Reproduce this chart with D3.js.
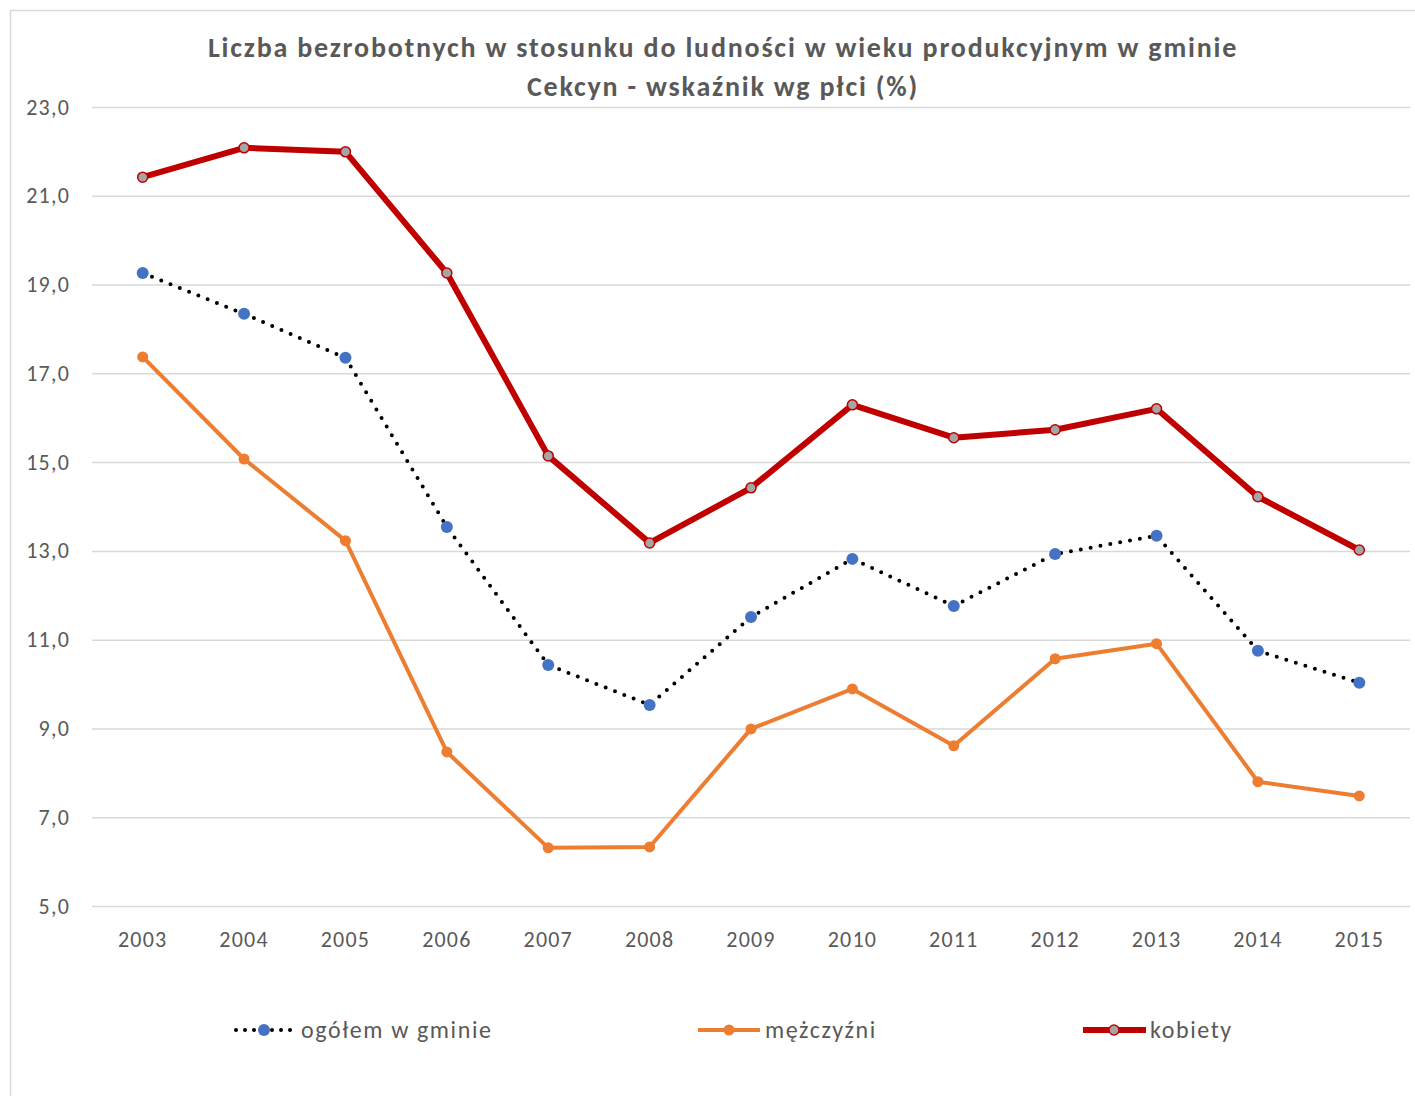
<!DOCTYPE html>
<html><head><meta charset="utf-8">
<script src="https://cdn.jsdelivr.net/npm/d3@7"></script>
<style>body{margin:0;background:#fff;}svg{display:block;}</style>
</head><body>
<script>
const years = ["2003","2004","2005","2006","2007","2008","2009","2010","2011","2012","2013","2014","2015"];
const ogolem = [19.26,18.34,17.35,13.54,10.43,9.53,11.51,12.82,11.76,12.93,13.34,10.75,10.03];
const mezczyzni = [17.37,15.07,13.23,8.47,6.31,6.33,8.99,9.89,8.61,10.57,10.91,7.80,7.48];
const kobiety = [21.42,22.08,21.99,19.26,15.14,13.18,14.42,16.29,15.55,15.73,16.20,14.22,13.02];
const yTicks = [5,7,9,11,13,15,17,19,21,23];
const titleLines = ["Liczba bezrobotnych w stosunku do ludności w wieku produkcyjnym w gminie","Cekcyn - wskaźnik wg płci (%)"];
const seriesNames = ["ogółem w gminie","mężczyźni","kobiety"];

const W=1415,H=1096;
const svg=d3.select("body").append("svg").attr("width",W).attr("height",H);
svg.append("rect").attr("x",10.5).attr("y",10.5).attr("width",W+20).attr("height",H+20)
  .attr("fill","#fff").attr("stroke","#d9d9d9").attr("stroke-width",1.5);

const font="Carlito, Calibri, Lato, 'Open Sans', sans-serif";
const x=d3.scaleBand().domain(years).range([92,1410]);
const y=d3.scaleLinear().domain([5,23]).range([906,107]);

// title
svg.append("g").selectAll("text").data(titleLines).join("text")
  .attr("x",723).attr("y",(d,i)=>57+i*39).attr("text-anchor","middle")
  .attr("font-family",font).attr("font-weight","bold").attr("font-size",28)
  .attr("letter-spacing",1.8).attr("fill","#595959").text(d=>d);

// grid
const yAxis=d3.axisLeft(y).tickValues(yTicks).tickSize(-(1410-92)).tickFormat(d=>d3.format(".1f")(d).replace(".",","));
const gy=svg.append("g").attr("transform","translate(92,0)").call(yAxis);
gy.select(".domain").remove();
gy.selectAll(".tick line").attr("stroke","#d9d9d9").attr("stroke-width",1.5);
gy.selectAll(".tick text").attr("x",-22).attr("font-family",font).attr("font-size",22).attr("letter-spacing",1.2).attr("fill","#595959");

const xAxis=d3.axisBottom(x).tickSize(0);
const gx=svg.append("g").attr("transform","translate(0,906)").call(xAxis);
gx.select(".domain").remove();
gx.selectAll(".tick text").attr("dy",0).attr("y",41).attr("font-family",font).attr("font-size",22).attr("letter-spacing",1.2).attr("fill","#595959");

const cx=(d,i)=>x(years[i])+x.bandwidth()/2;
const line=d3.line().x(cx).y(d=>y(d));

// mężczyźni
svg.append("path").datum(mezczyzni).attr("d",line).attr("fill","none").attr("stroke","#ED7D31").attr("stroke-width",4).attr("stroke-linejoin","round");
svg.append("g").selectAll("circle").data(mezczyzni).join("circle").attr("cx",cx).attr("cy",d=>y(d)).attr("r",5.5).attr("fill","#ED7D31");

// ogółem
svg.append("path").datum(ogolem).attr("d",line).attr("fill","none").attr("stroke","#000").attr("stroke-width",4)
  .attr("stroke-dasharray","0,10").attr("stroke-linecap","round");
svg.append("g").selectAll("circle").data(ogolem).join("circle").attr("cx",cx).attr("cy",d=>y(d)).attr("r",6).attr("fill","#4472C4");

// kobiety
svg.append("path").datum(kobiety).attr("d",line).attr("fill","none").attr("stroke","#C00000").attr("stroke-width",6).attr("stroke-linejoin","round");
svg.append("g").selectAll("circle").data(kobiety).join("circle").attr("cx",cx).attr("cy",d=>y(d)).attr("r",5).attr("fill","#A5A5A5").attr("stroke","#C00000").attr("stroke-width",1.5);

// legend
const ly=1030;
const lg=svg.append("g");
lg.append("line").attr("x1",236).attr("x2",292).attr("y1",ly).attr("y2",ly).attr("stroke","#000").attr("stroke-width",4).attr("stroke-dasharray","0,9").attr("stroke-linecap","round");
lg.append("circle").attr("cx",264).attr("cy",ly).attr("r",6).attr("fill","#4472C4");
lg.append("text").attr("x",301).attr("y",ly+8).text(seriesNames[0]);
lg.append("line").attr("x1",698).attr("x2",760).attr("y1",ly).attr("y2",ly).attr("stroke","#ED7D31").attr("stroke-width",4);
lg.append("circle").attr("cx",729).attr("cy",ly).attr("r",5.5).attr("fill","#ED7D31");
lg.append("text").attr("x",765).attr("y",ly+8).text(seriesNames[1]);
lg.append("line").attr("x1",1083).attr("x2",1146).attr("y1",ly).attr("y2",ly).attr("stroke","#C00000").attr("stroke-width",6);
lg.append("circle").attr("cx",1114).attr("cy",ly).attr("r",5).attr("fill","#A5A5A5").attr("stroke","#C00000").attr("stroke-width",1.5);
lg.append("text").attr("x",1150).attr("y",ly+8).text(seriesNames[2]);
lg.selectAll("text").attr("font-family",font).attr("font-size",24).attr("letter-spacing",1.6).attr("fill","#595959");
</script>
</body></html>
